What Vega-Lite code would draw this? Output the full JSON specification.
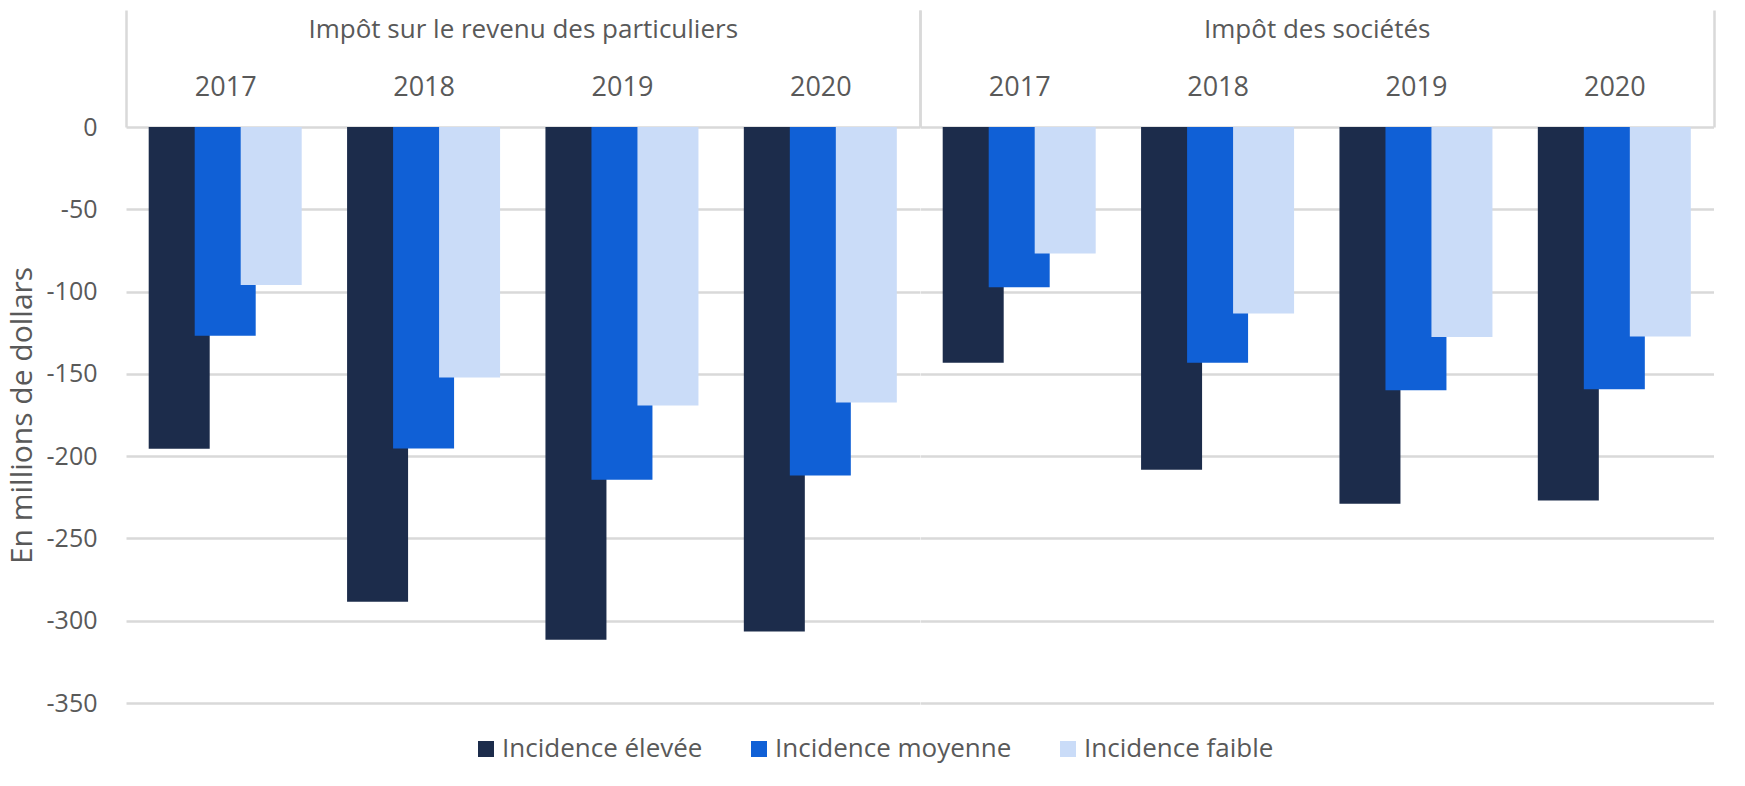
{
  "$schema": "https://vega.github.io/schema/vega-lite/v6.json",
  "background": "white",
  "padding": {"left": 7, "top": 8, "right": 29, "bottom": 5},
  "bounds": "flush",
  "spacing": 0,
  "config": {
    "font": "Open Sans",
    "view": {"stroke": null},
    "axis": {"labelFont": "Open Sans", "titleFont": "Open Sans", "labelColor": "#595959", "titleColor": "#595959", "titleFontWeight": "normal"}
  },
  "datasets": {
    "d": [
      {"impot": "Impôt sur le revenu des particuliers", "annee": "2017", "incidence": "Incidence élevée", "valeur": -195.5},
      {"impot": "Impôt sur le revenu des particuliers", "annee": "2017", "incidence": "Incidence moyenne", "valeur": -126.8},
      {"impot": "Impôt sur le revenu des particuliers", "annee": "2017", "incidence": "Incidence faible", "valeur": -96},
      {"impot": "Impôt sur le revenu des particuliers", "annee": "2018", "incidence": "Incidence élevée", "valeur": -288.5},
      {"impot": "Impôt sur le revenu des particuliers", "annee": "2018", "incidence": "Incidence moyenne", "valeur": -195.4},
      {"impot": "Impôt sur le revenu des particuliers", "annee": "2018", "incidence": "Incidence faible", "valeur": -152.2},
      {"impot": "Impôt sur le revenu des particuliers", "annee": "2019", "incidence": "Incidence élevée", "valeur": -311.5},
      {"impot": "Impôt sur le revenu des particuliers", "annee": "2019", "incidence": "Incidence moyenne", "valeur": -214.3},
      {"impot": "Impôt sur le revenu des particuliers", "annee": "2019", "incidence": "Incidence faible", "valeur": -169.3},
      {"impot": "Impôt sur le revenu des particuliers", "annee": "2020", "incidence": "Incidence élevée", "valeur": -306.5},
      {"impot": "Impôt sur le revenu des particuliers", "annee": "2020", "incidence": "Incidence moyenne", "valeur": -211.8},
      {"impot": "Impôt sur le revenu des particuliers", "annee": "2020", "incidence": "Incidence faible", "valeur": -167.4},
      {"impot": "Impôt des sociétés", "annee": "2017", "incidence": "Incidence élevée", "valeur": -143.2},
      {"impot": "Impôt des sociétés", "annee": "2017", "incidence": "Incidence moyenne", "valeur": -97.4},
      {"impot": "Impôt des sociétés", "annee": "2017", "incidence": "Incidence faible", "valeur": -76.8},
      {"impot": "Impôt des sociétés", "annee": "2018", "incidence": "Incidence élevée", "valeur": -208.3},
      {"impot": "Impôt des sociétés", "annee": "2018", "incidence": "Incidence moyenne", "valeur": -143.2},
      {"impot": "Impôt des sociétés", "annee": "2018", "incidence": "Incidence faible", "valeur": -113.3},
      {"impot": "Impôt des sociétés", "annee": "2019", "incidence": "Incidence élevée", "valeur": -228.9},
      {"impot": "Impôt des sociétés", "annee": "2019", "incidence": "Incidence moyenne", "valeur": -159.9},
      {"impot": "Impôt des sociétés", "annee": "2019", "incidence": "Incidence faible", "valeur": -127.6},
      {"impot": "Impôt des sociétés", "annee": "2020", "incidence": "Incidence élevée", "valeur": -226.9},
      {"impot": "Impôt des sociétés", "annee": "2020", "incidence": "Incidence moyenne", "valeur": -159.3},
      {"impot": "Impôt des sociétés", "annee": "2020", "incidence": "Incidence faible", "valeur": -127.3}
    ]
  },
  "hconcat": [
    {
      "width": 793.5,
      "height": 576,
      "data": {"name": "d"},
      "transform": [{"filter": "datum.impot == 'Impôt sur le revenu des particuliers'"}],
      "mark": {"type": "bar", "width": 61},
      "encoding": {
        "x": {
          "field": "annee", "type": "nominal",
          "scale": {"paddingInner": 0, "paddingOuter": 0},
          "axis": {
            "orient": "top", "title": "Impôt sur le revenu des particuliers",
            "domain": false, "tickBand": "extent", "tickSize": 117, "tickColor": "#d9d9d9", "tickWidth": 2.5,
            "tickOpacity": {"condition": {"test": "datum.value == '2020' || datum.index < 0 || datum.extra", "value": 1}, "value": 0},
            "labelPadding": -85, "labelBaseline": "alphabetic", "labelAngle": 0, "labelFontSize": 27,
            "titleY": -90, "titleBaseline": "alphabetic", "titleFontSize": 26
          }
        },
        "xOffset": {
          "field": "incidence", "type": "nominal",
          "sort": ["Incidence élevée", "Incidence moyenne", "Incidence faible"],
          "scale": {"range": [30.2, 168.2]}
        },
        "y": {
          "field": "valeur", "type": "quantitative",
          "scale": {"domain": [-350, 0], "nice": false, "zero": false},
          "axis": {
            "values": [0, -50, -100, -150, -200, -250, -300, -350],
            "labelExpr": "datum.value == 0 ? '0' : '-' + abs(datum.value)",
            "title": "En millions de dollars", "titleFontSize": 30, "titlePadding": 9,
            "domain": false, "ticks": false, "labelPadding": 29, "labelFontSize": 25,
            "grid": true, "gridColor": "#d9d9d9", "gridWidth": 2.5
          }
        },
        "color": {
          "field": "incidence", "type": "nominal",
          "sort": ["Incidence élevée", "Incidence moyenne", "Incidence faible"],
          "scale": {"domain": ["Incidence élevée", "Incidence moyenne", "Incidence faible"], "range": ["#1c2c4b", "#1060d6", "#cadcf8"]},
          "legend": {
            "orient": "none", "legendX": 347, "legendY": 609, "direction": "horizontal", "title": null,
            "symbolType": "square", "symbolSize": 256, "symbolStrokeWidth": 0, "symbolOpacity": 1,
            "labelFont": "Open Sans", "labelFontSize": 26, "labelColor": "#595959", "labelLimit": 400,
            "labelOffset": 3, "columnPadding": 43
          }
        }
      }
    },
    {
      "width": 793.5,
      "height": 576,
      "data": {"name": "d"},
      "transform": [{"filter": "datum.impot == 'Impôt des sociétés'"}],
      "mark": {"type": "bar", "width": 61},
      "encoding": {
        "x": {
          "field": "annee", "type": "nominal",
          "scale": {"paddingInner": 0, "paddingOuter": 0},
          "axis": {
            "orient": "top", "title": "Impôt des sociétés",
            "domain": false, "tickBand": "extent", "tickSize": 117, "tickColor": "#d9d9d9", "tickWidth": 2.5,
            "tickOpacity": {"condition": {"test": "datum.value == '2020' || datum.index < 0 || datum.extra", "value": 1}, "value": 0},
            "labelPadding": -85, "labelBaseline": "alphabetic", "labelAngle": 0, "labelFontSize": 27,
            "titleY": -90, "titleBaseline": "alphabetic", "titleFontSize": 26
          }
        },
        "xOffset": {
          "field": "incidence", "type": "nominal",
          "sort": ["Incidence élevée", "Incidence moyenne", "Incidence faible"],
          "scale": {"range": [30.2, 168.2]}
        },
        "y": {
          "field": "valeur", "type": "quantitative",
          "scale": {"domain": [-350, 0], "nice": false, "zero": false},
          "axis": {
            "values": [0, -50, -100, -150, -200, -250, -300, -350],
            "title": null, "labels": false, "domain": false, "ticks": false,
            "grid": true, "gridColor": "#d9d9d9", "gridWidth": 2.5
          }
        },
        "color": {
          "field": "incidence", "type": "nominal",
          "sort": ["Incidence élevée", "Incidence moyenne", "Incidence faible"],
          "scale": {"domain": ["Incidence élevée", "Incidence moyenne", "Incidence faible"], "range": ["#1c2c4b", "#1060d6", "#cadcf8"]},
          "legend": {
            "orient": "none", "legendX": 347, "legendY": 609, "direction": "horizontal", "title": null,
            "symbolType": "square", "symbolSize": 256, "symbolStrokeWidth": 0, "symbolOpacity": 1,
            "labelFont": "Open Sans", "labelFontSize": 26, "labelColor": "#595959", "labelLimit": 400,
            "labelOffset": 3, "columnPadding": 43
          }
        }
      }
    }
  ],
  "resolve": {"scale": {"y": "shared", "color": "shared"}}
}
